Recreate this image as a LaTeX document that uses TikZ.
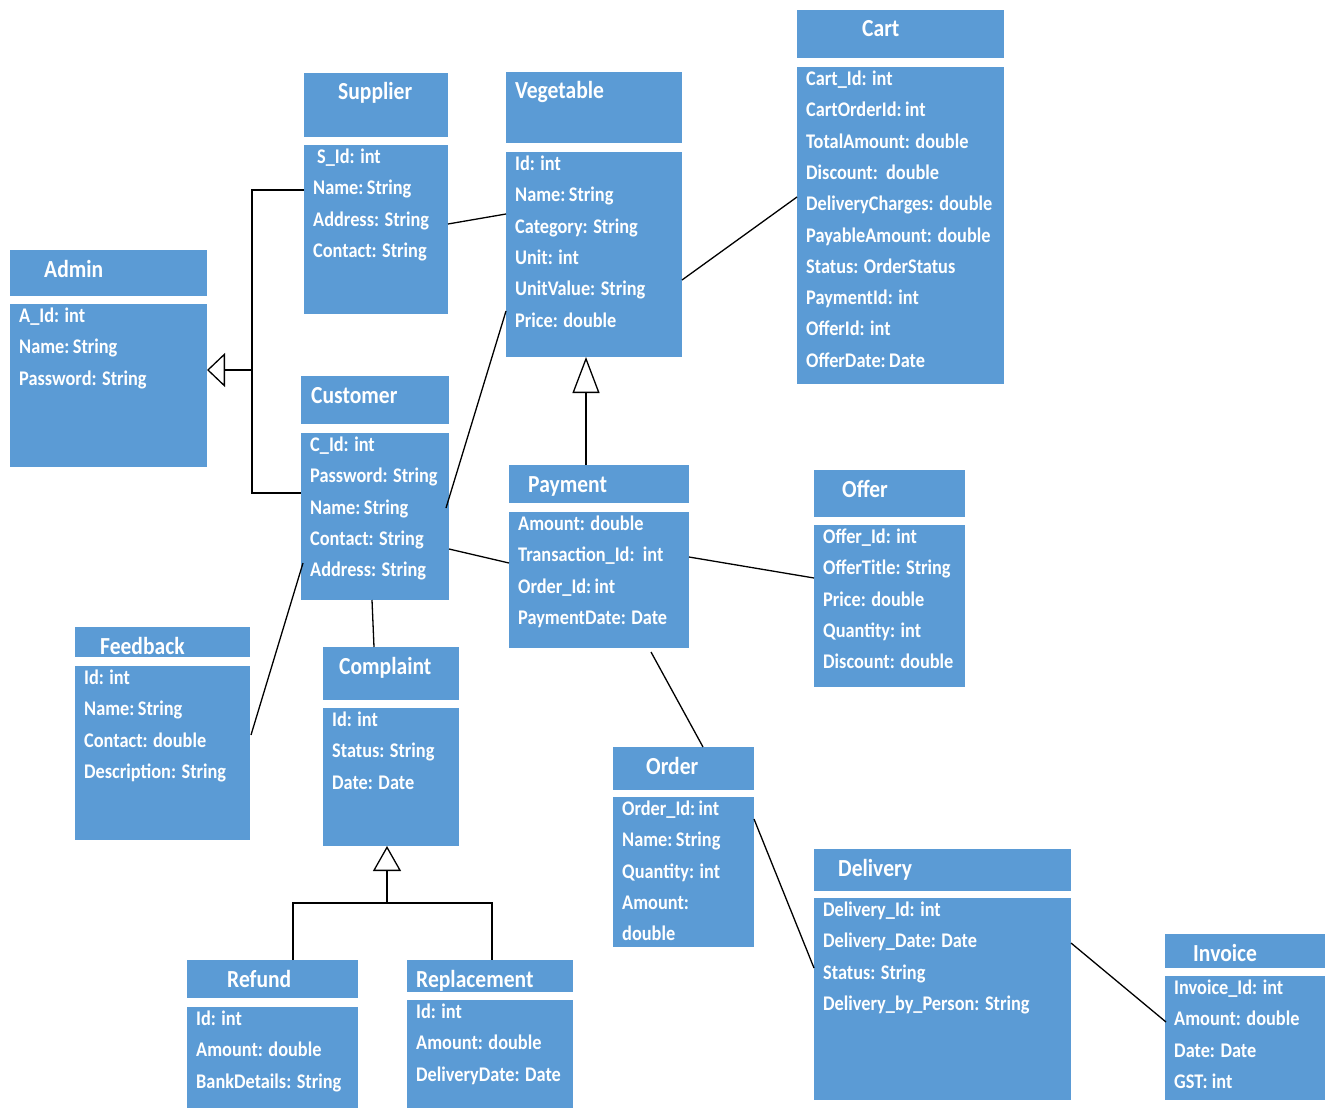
\documentclass[tikz,border=0pt]{standalone}
\usepackage{fontspec}
\setmainfont{Carlito}[FakeStretch=0.88]
\usetikzlibrary{arrows.meta,calc}
\definecolor{boxblue}{HTML}{5B9BD5}
\tikzset{
  part/.style={rectangle, fill=boxblue, draw=none, inner sep=0pt, outer sep=0pt},
  ttl/.style={anchor=base west, inner sep=0pt, text=white, font=\fontsize{24.5}{28}\selectfont\bfseries},
  att/.style={anchor=base west, inner sep=0pt, text=white, font=\fontsize{20.8}{24}\selectfont\bfseries},
  conn/.style={draw=black, line width=1.3pt},
}
\newcommand\umlcls[9]{%
  \node[part, minimum width={#3-#2}, minimum height={#5-#4}] (#1H) at ({(#2+#3)/2},{(#4+#5)/2}) {};
  \node[part, minimum width={#3-#2}, minimum height={#7-#6}] (#1B) at ({(#2+#3)/2},{(#6+#7)/2}) {};
  \node[ttl] (#1T) at (#8,#4+27) {#1};
  \foreach \t [count=\i from 0] in {#9} \node[att] (#1A\i) at (#2+9,#6+18.5+31.3*\i) {\t};
}
\begin{document}
\begin{tikzpicture}[x=1pt,y=-1pt]
\fill[white] (0,0) rectangle (1329,1110);
\useasboundingbox (0,0) rectangle (1329,1110);

\umlcls{Admin}{10}{207}{250}{296}{304}{467}{44}{A\_Id: int, Name:\,String, Password: String}
\umlcls{Supplier}{304}{448}{73}{137}{145}{314}{338}{\hspace*{4pt}S\_Id: int, Name:\,String, Address: String, Contact: String}
\umlcls{Vegetable}{506}{682}{72}{143}{152}{357}{515}{Id: int, Name:\,String, Category: String, Unit: int, UnitValue: String, Price: double}
\umlcls{Cart}{797}{1004}{10}{58}{67}{384}{862}{Cart\_Id: int, CartOrderId:\,int, TotalAmount: double, Discount:\ \ double, DeliveryCharges: double, PayableAmount: double, Status: OrderStatus, PaymentId: int, OfferId: int, OfferDate:\,Date}
\umlcls{Customer}{301}{449}{376}{424}{433}{600}{311}{C\_Id: int, Password: String, Name:\,String, Contact: String, Address: String}
\umlcls{Payment}{509}{689}{465}{503}{512}{648}{528}{Amount: double, Transaction\_Id:\ \ int, Order\_Id:\,int, PaymentDate: Date}
\umlcls{Offer}{814}{965}{470}{517}{525}{687}{842}{Offer\_Id: int, OfferTitle: String, Price: double, Quantity: int, Discount: double}
\umlcls{Feedback}{75}{250}{627}{657}{666}{840}{100}{Id: int, Name:\,String, Contact: double, Description: String}
\umlcls{Complaint}{323}{459}{647}{700}{708}{846}{339}{Id: int, Status: String, Date: Date}
\umlcls{Refund}{187}{358}{960}{998}{1007}{1108}{227}{Id: int, Amount: double, BankDetails: String}
\umlcls{Replacement}{407}{573}{960}{992}{1000}{1108}{416}{Id: int, Amount: double, DeliveryDate: Date}
\umlcls{Order}{613}{754}{747}{790}{797}{947}{646}{Order\_Id:\,int, Name:\,String, Quantity: int, Amount:, double}
\umlcls{Delivery}{814}{1071}{849}{891}{898}{1100}{838}{Delivery\_Id: int, Delivery\_Date: Date, Status: String, Delivery\_by\_Person: String}
\umlcls{Invoice}{1165}{1325}{934}{968}{976}{1100}{1193}{Invoice\_Id: int, Amount: double, Date: Date, GST: int}

% generalization: Supplier, Customer -> Admin
\coordinate (j1) at ($(AdminB.north east)+(45,66)$);
\draw[conn] ($(SupplierB.north west)+(0,45)$) -- ++(-52,0) |- ($(CustomerB.north west)+(0,60)$);
\draw[conn, -{Triangle[open, length=18pt, width=34pt]}] (j1) -- ($(AdminB.north east)+(0,66)$);

% generalization: Payment -> Vegetable
\draw[conn, -{Triangle[open, length=36pt, width=27pt]}] ($(PaymentH.north west)+(77,0)$) -- ($(VegetableB.south west)+(80,0)$);

% generalization: Refund, Replacement -> Complaint
\coordinate (j2) at ($(ComplaintB.south west)+(64,57)$);
\draw[conn] ($(RefundH.north west)+(106,0)$) -- ++(0,-57) -| ($(ReplacementH.north west)+(85,0)$);
\draw[conn, -{Triangle[open, length=25pt, width=28pt]}] (j2) -- ($(ComplaintB.south west)+(64,0)$);

% associations
\draw[conn] ($(SupplierB.north east)+(0,79)$) -- ($(VegetableB.north west)+(0,62)$);
\draw[conn] ($(CustomerB.north east)+(-3,75)$) -- ($(VegetableB.north west)+(0,159)$);
\draw[conn] ($(VegetableB.north east)+(0,128)$) -- ($(CartB.north west)+(0,130)$);
\draw[conn] ($(CustomerB.north east)+(0,116)$) -- ($(PaymentB.north west)+(0,51)$);
\draw[conn] ($(PaymentB.north east)+(0,45)$) -- ($(OfferB.north west)+(0,53)$);
\draw[conn] ($(CustomerB.south west)+(71,0)$) -- ($(ComplaintH.north west)+(51,0)$);
\draw[conn] ($(CustomerB.north west)+(2,130)$) -- ($(FeedbackB.north east)+(1,69)$);
\draw[conn] ($(PaymentB.south west)+(142,4)$) -- ($(OrderH.north west)+(90,0)$);
\draw[conn] ($(OrderB.north east)+(0,22)$) -- ($(DeliveryB.north west)+(0,70)$);
\draw[conn] ($(DeliveryB.north east)+(0,45)$) -- ($(InvoiceB.north west)+(1,46)$);
\end{tikzpicture}
\end{document}
